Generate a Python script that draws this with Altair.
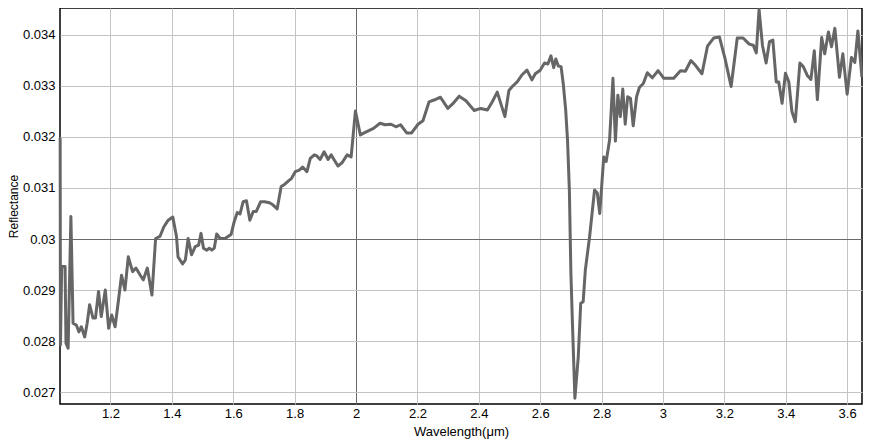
import altair as alt
import pandas as pd

wavelength = [
    1.036, 1.037, 1.041, 1.052, 1.055, 1.062, 1.071, 1.078, 1.089, 1.097,
    1.105, 1.116, 1.124, 1.132, 1.143, 1.151, 1.161, 1.170, 1.183, 1.194,
    1.204, 1.215, 1.226, 1.236, 1.247, 1.258, 1.272, 1.283, 1.297, 1.307,
    1.320, 1.335, 1.347, 1.361, 1.374, 1.388, 1.403, 1.415, 1.420, 1.435,
    1.444, 1.453, 1.464, 1.476, 1.487, 1.495, 1.503, 1.514, 1.522, 1.530,
    1.538, 1.546, 1.557, 1.573, 1.593, 1.603, 1.613, 1.622, 1.632, 1.643,
    1.654, 1.665, 1.675, 1.689, 1.702, 1.718, 1.729, 1.743, 1.756, 1.767,
    1.780, 1.790, 1.802, 1.815, 1.826, 1.840, 1.851, 1.864, 1.872, 1.883,
    1.896, 1.909, 1.919, 1.928, 1.941, 1.955, 1.971, 1.984, 1.998, 2.014,
    2.033, 2.057, 2.078, 2.095, 2.114, 2.130, 2.145, 2.165, 2.181, 2.202,
    2.218, 2.238, 2.256, 2.275, 2.299, 2.318, 2.336, 2.358, 2.385, 2.406,
    2.428, 2.444, 2.460, 2.485, 2.498, 2.509, 2.525, 2.541, 2.557, 2.573,
    2.584, 2.600, 2.614, 2.625, 2.635, 2.644, 2.651, 2.659, 2.668, 2.675,
    2.683, 2.689, 2.695, 2.700, 2.705, 2.713, 2.724, 2.732, 2.740, 2.747,
    2.761, 2.777, 2.786, 2.794, 2.807, 2.815, 2.826, 2.837, 2.845, 2.853,
    2.861, 2.869, 2.877, 2.885, 2.894, 2.903, 2.914, 2.923, 2.936, 2.949,
    2.965, 2.984, 3.003, 3.035, 3.057, 3.073, 3.091, 3.105, 3.127, 3.145,
    3.165, 3.184, 3.202, 3.222, 3.242, 3.261, 3.281, 3.294, 3.304, 3.313,
    3.324, 3.336, 3.347, 3.358, 3.369, 3.377, 3.388, 3.399, 3.410, 3.420,
    3.431, 3.446, 3.457, 3.471, 3.482, 3.493, 3.503, 3.517, 3.527, 3.539,
    3.549, 3.560, 3.575, 3.586, 3.600, 3.614, 3.625, 3.635, 3.648,
]

reflectance = [
    0.03198, 0.02792, 0.02946, 0.02946, 0.02796, 0.02786, 0.03044, 0.02835, 0.02831, 0.02818,
    0.02828, 0.02808, 0.02835, 0.02871, 0.02845, 0.02845, 0.02897, 0.02848, 0.02900, 0.02825,
    0.02851, 0.02828, 0.02880, 0.02929, 0.02900, 0.02965, 0.02936, 0.02943, 0.02929, 0.02920,
    0.02943, 0.02890, 0.03001, 0.03005, 0.03024, 0.03037, 0.03043, 0.03005, 0.02965, 0.02951,
    0.02959, 0.03001, 0.02969, 0.02985, 0.02988, 0.03011, 0.02982, 0.02978, 0.02982, 0.02978,
    0.02982, 0.03010, 0.03001, 0.03001, 0.03009, 0.03034, 0.03052, 0.03049, 0.03073, 0.03075,
    0.03037, 0.03054, 0.03054, 0.03073, 0.03073, 0.03071, 0.03067, 0.03059, 0.03103, 0.03107,
    0.03114, 0.03119, 0.03132, 0.03135, 0.03141, 0.03132, 0.03158, 0.03165, 0.03163, 0.03156,
    0.03171, 0.03156, 0.03165, 0.03156, 0.03143, 0.03150, 0.03165, 0.03161, 0.03251, 0.03204,
    0.03210, 0.03217, 0.03227, 0.03224, 0.03225, 0.03220, 0.03224, 0.03208, 0.03208, 0.03225,
    0.03232, 0.03269, 0.03273, 0.03278, 0.03256, 0.03267, 0.03280, 0.03271, 0.03252, 0.03256,
    0.03253, 0.03269, 0.03288, 0.03240, 0.03291, 0.03299, 0.03308, 0.03322, 0.03331, 0.03312,
    0.03324, 0.03331, 0.03345, 0.03343, 0.03359, 0.03336, 0.03353, 0.03339, 0.03338, 0.03305,
    0.03253, 0.03194, 0.03096, 0.02933, 0.02835, 0.02688, 0.02769, 0.02874, 0.02877, 0.02939,
    0.03005, 0.03096, 0.03090, 0.03050, 0.03161, 0.03152, 0.03194, 0.03315, 0.03192, 0.03282,
    0.03240, 0.03294, 0.03225, 0.03279, 0.03276, 0.03222, 0.03279, 0.03297, 0.03305, 0.03326,
    0.03316, 0.03330, 0.03315, 0.03315, 0.03330, 0.03329, 0.03350, 0.03341, 0.03324, 0.03378,
    0.03394, 0.03396, 0.03354, 0.03299, 0.03394, 0.03394, 0.03382, 0.03380, 0.03365, 0.03450,
    0.03380, 0.03345, 0.03387, 0.03390, 0.03308, 0.03308, 0.03266, 0.03325, 0.03308, 0.03250,
    0.03230, 0.03345, 0.03338, 0.03320, 0.03313, 0.03369, 0.03273, 0.03395, 0.03363, 0.03406,
    0.03377, 0.03413, 0.03317, 0.03363, 0.03284, 0.03356, 0.03346, 0.03408, 0.03318,
]

x_ticks = [1.2, 1.4, 1.6, 1.8, 2, 2.2, 2.4, 2.6, 2.8, 3, 3.2, 3.4, 3.6]
y_ticks = [0.027, 0.028, 0.029, 0.03, 0.031, 0.032, 0.033, 0.034]
x_domain = [1.0355, 3.6484]
y_domain = [0.026765, 0.034529]

df = pd.DataFrame({"wavelength": wavelength, "reflectance": reflectance})

FONT = "Liberation Sans"

x_axis = alt.Axis(
    values=x_ticks, format="~g", ticks=False, domain=False,
    labelPadding=3, labelFont=FONT, labelFontSize=13, labelColor="#000",
    grid=True,
    gridColor={"condition": {"test": "abs(datum.value - 2) < 1e-9", "value": "#6a6a6a"},
               "value": "#c4c4c4"},
    gridWidth=1,
    title="Wavelength(μm)", titleFont=FONT, titleFontSize=13,
    titleFontWeight="normal", titleColor="#000", titlePadding=5,
)
y_axis = alt.Axis(
    values=y_ticks, format="~g", ticks=False, domain=False,
    labelPadding=5, labelFont=FONT, labelFontSize=13, labelColor="#000",
    grid=True,
    gridColor={"condition": {"test": "abs(datum.value - 0.03) < 1e-9", "value": "#6a6a6a"},
               "value": "#c4c4c4"},
    gridWidth=1,
    title="Reflectance", titleFont=FONT, titleFontSize=12,
    titleFontWeight="normal", titleColor="#000", titlePadding=2,
)

chart = (
    alt.Chart(df)
    .mark_line(color="#666666", strokeWidth=3, strokeJoin="round")
    .encode(
        x=alt.X("wavelength:Q", scale=alt.Scale(domain=x_domain, nice=False, zero=False), axis=x_axis),
        y=alt.Y("reflectance:Q", scale=alt.Scale(domain=y_domain, nice=False, zero=False), axis=y_axis),
    )
    .properties(
        width=802, height=396,
        autosize=alt.AutoSizeParams(type="none"),
        padding={"left": 52, "top": 0, "right": 1, "bottom": 36},
    )
    .configure_view(stroke="black", strokeWidth=1.5)
)

chart.save("out.html", embed_options={"renderer": "svg", "actions": False})
